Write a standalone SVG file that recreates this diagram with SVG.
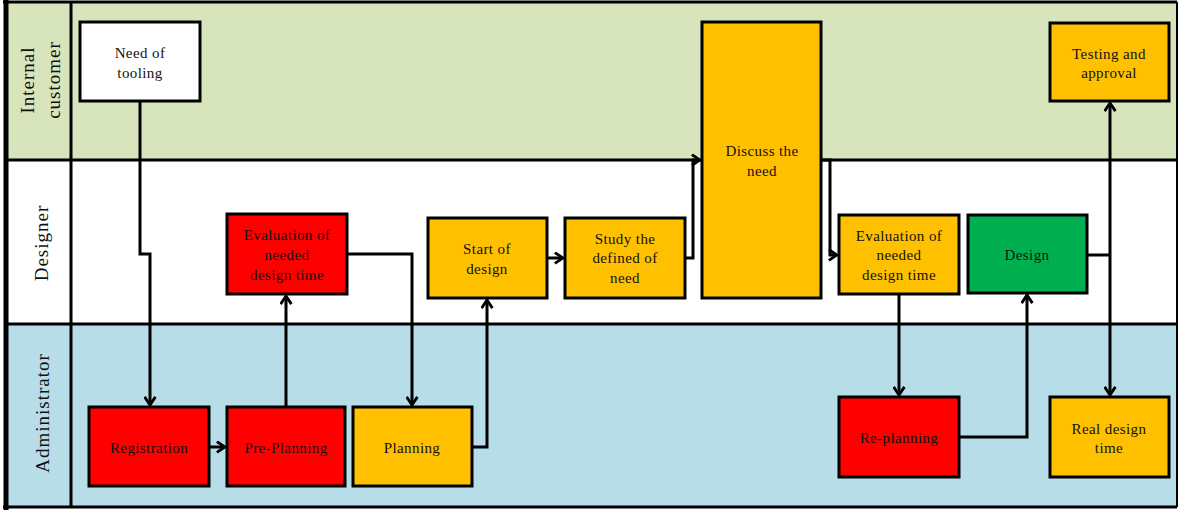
<svg xmlns="http://www.w3.org/2000/svg" width="1180" height="510" viewBox="0 0 1180 510">
<style>
.node{stroke:#000;stroke-width:3}
.red{fill:#ff0000}
.org{fill:#ffc000}
.grn{fill:#00b050}
.wht{fill:#ffffff}
.t{font-family:"Liberation Serif","DejaVu Serif",serif;font-size:15px;letter-spacing:0.4px;fill:#111;text-anchor:middle;dominant-baseline:central}
.lane{font-family:"Liberation Serif","DejaVu Serif",serif;font-size:19px;fill:#111;text-anchor:middle;dominant-baseline:central;letter-spacing:1px}
.c{fill:none;stroke:#000;stroke-width:3}
.b{stroke:#000;fill:none}
</style>
<defs>
<marker id="ah" viewBox="0 0 10 12" refX="8.5" refY="6" markerWidth="11" markerHeight="13" markerUnits="userSpaceOnUse" orient="auto">
<path d="M1,1 L8.5,6 L1,11" fill="none" stroke="#000" stroke-width="2.6"/>
</marker>
</defs>
<g id="lanes">
<rect x="5" y="2" width="1172" height="158" fill="#d8e4bc"/>
<rect x="5" y="160" width="1172" height="164" fill="#ffffff"/>
<rect x="5" y="324" width="1172" height="183" fill="#b7dde8"/>
<line class="b" x1="5" y1="160" x2="1177" y2="160" stroke-width="3"/>
<line class="b" x1="5" y1="324" x2="1177" y2="324" stroke-width="3"/>
<line class="b" x1="71" y1="2" x2="71" y2="507" stroke-width="3"/>
<line class="b" x1="3" y1="2" x2="1177" y2="2" stroke-width="3"/>
<line class="b" x1="3" y1="507" x2="1177" y2="507" stroke-width="3"/>
<line class="b" x1="6" y1="0" x2="6" y2="510" stroke-width="5"/>
<line class="b" x1="1177" y1="2" x2="1177" y2="507" stroke-width="2"/>
<text class="lane" transform="translate(27,80) rotate(-90)">Internal</text>
<text class="lane" transform="translate(53,80) rotate(-90)">customer</text>
<text class="lane" transform="translate(41,243) rotate(-90)">Designer</text>
<text class="lane" transform="translate(42,413) rotate(-90)">Administrator</text>
</g>
<g id="connectors">
<path class="c" d="M140,101 V254 H150 V405" marker-end="url(#ah)"/>
<path class="c" d="M209,447 H225" marker-end="url(#ah)"/>
<path class="c" d="M286,407 V296" marker-end="url(#ah)"/>
<path class="c" d="M347,254 H412 V405" marker-end="url(#ah)"/>
<path class="c" d="M472,447 H487 V300" marker-end="url(#ah)"/>
<path class="c" d="M547,258 H563" marker-end="url(#ah)"/>
<path class="c" d="M685,258 H693 V160 H700" marker-end="url(#ah)"/>
<path class="c" d="M821,160 H830 V255 H837" marker-end="url(#ah)"/>
<path class="c" d="M899,293 V395" marker-end="url(#ah)"/>
<path class="c" d="M959,437 H1027 V295" marker-end="url(#ah)"/>
<path class="c" d="M1087,255 H1110"/>
<path class="c" d="M1110,255 V103" marker-end="url(#ah)"/>
<path class="c" d="M1110,255 V395" marker-end="url(#ah)"/>
</g>
<g id="need-of-tooling">
<rect class="node wht" x="80" y="22" width="120" height="79"/>
<text class="t" x="140" y="53">Need of</text>
<text class="t" x="140" y="73">tooling</text>
</g>
<g id="eval-red">
<rect class="node red" x="227" y="214" width="120" height="80"/>
<text class="t" x="287" y="235">Evaluation of</text>
<text class="t" x="287" y="255">needed</text>
<text class="t" x="287" y="275">design time</text>
</g>
<g id="registration">
<rect class="node red" x="89" y="407" width="120" height="79"/>
<text class="t" x="149" y="448">Registration</text>
</g>
<g id="pre-planning">
<rect class="node red" x="227" y="407" width="118" height="79"/>
<text class="t" x="286" y="448">Pre-Planning</text>
</g>
<g id="planning">
<rect class="node org" x="353" y="407" width="119" height="79"/>
<text class="t" x="412" y="448">Planning</text>
</g>
<g id="start-of-design">
<rect class="node org" x="428" y="218" width="119" height="80"/>
<text class="t" x="487" y="249">Start of</text>
<text class="t" x="487" y="269">design</text>
</g>
<g id="study">
<rect class="node org" x="565" y="218" width="120" height="80"/>
<text class="t" x="625" y="239">Study the</text>
<text class="t" x="625" y="258">defined of</text>
<text class="t" x="625" y="278">need</text>
</g>
<g id="discuss">
<rect class="node org" x="702" y="22" width="119" height="276"/>
<text class="t" x="762" y="151">Discuss the</text>
<text class="t" x="762" y="171">need</text>
</g>
<g id="eval-orange">
<rect class="node org" x="839" y="215" width="120" height="79"/>
<text class="t" x="899" y="236">Evaluation of</text>
<text class="t" x="899" y="255">needed</text>
<text class="t" x="899" y="275">design time</text>
</g>
<g id="design">
<rect class="node grn" x="968" y="215" width="119" height="78"/>
<text class="t" x="1027" y="255">Design</text>
</g>
<g id="testing">
<rect class="node org" x="1050" y="23" width="119" height="78"/>
<text class="t" x="1109" y="54">Testing and</text>
<text class="t" x="1109" y="73">approval</text>
</g>
<g id="re-planning">
<rect class="node red" x="839" y="397" width="120" height="80"/>
<text class="t" x="899" y="438">Re-planning</text>
</g>
<g id="real-design-time">
<rect class="node org" x="1050" y="397" width="119" height="80"/>
<text class="t" x="1109" y="429">Real design</text>
<text class="t" x="1109" y="448">time</text>
</g>
</svg>
